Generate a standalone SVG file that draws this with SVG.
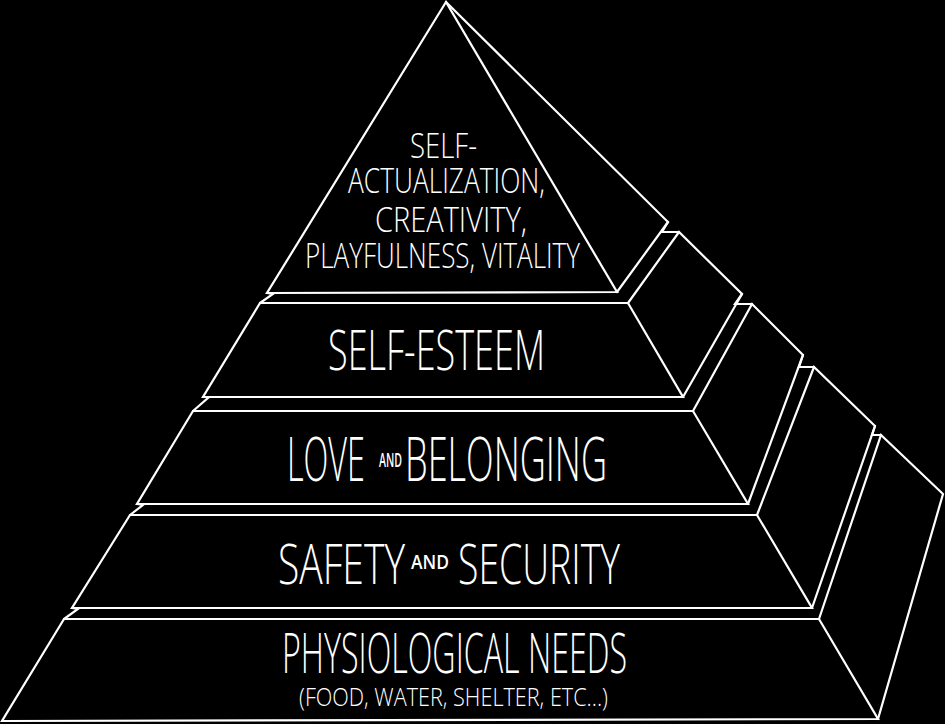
<svg xmlns="http://www.w3.org/2000/svg" width="945" height="724" viewBox="0 0 945 724">
  <style>
    .edge { fill: none; stroke: #ffffff; stroke-width: 2.2; stroke-linejoin: miter; stroke-linecap: round; }
    .lbl { fill: #ffffff; font-family: "Open Sans", "Liberation Sans", "DejaVu Sans", sans-serif; font-weight: 300; }
    .small { font-weight: 600; }
  </style>
  <rect x="0" y="0" width="945" height="724" fill="#000000"/>

  <g id="connectors">
    <path class="edge" d="M267,293 L273,294 L260,303"/>
    <path class="edge" d="M668,222 L662,232 L679,232"/>
    <path class="edge" d="M203,397 L209,397 L193,411"/>
    <path class="edge" d="M742,294 L735,304 L752,304"/>
    <path class="edge" d="M137,504 L143,505 L130,515"/>
    <path class="edge" d="M803,355 L799,367 L814,367"/>
    <path class="edge" d="M72,608 L78,609 L64,619"/>
    <path class="edge" d="M875,426 L872,435 L881,435"/>
  </g>

  <g id="tier-self-actualization">
    <path class="edge" d="M446,2 L267,293 L617,292 Z"/>
    <path class="edge" d="M446,2 L668,222 L617,292"/>
    <text class="lbl" transform="translate(410,158) scale(0.86,1)" font-size="34" textLength="77.9" lengthAdjust="spacingAndGlyphs">SELF-</text>
    <text class="lbl" transform="translate(348,193) scale(0.79,1)" font-size="35" textLength="249.4" lengthAdjust="spacingAndGlyphs">ACTUALIZATION,</text>
    <text class="lbl" transform="translate(375,232) scale(0.88,1)" font-size="35" textLength="172.7" lengthAdjust="spacingAndGlyphs">CREATIVITY,</text>
    <text class="lbl" transform="translate(305,268) scale(0.79,1)" font-size="34" textLength="348.1" lengthAdjust="spacingAndGlyphs">PLAYFULNESS, VITALITY</text>
  </g>

  <g id="tier-self-esteem">
    <path class="edge" d="M260,303 L628,303 L683,397 L203,397 Z"/>
    <path class="edge" d="M628,303 L679,232 L742,294 L683,397"/>
    <text class="lbl" transform="translate(328,370) scale(0.68,1)" font-size="56" textLength="319.1" lengthAdjust="spacingAndGlyphs">SELF-ESTEEM</text>
  </g>

  <g id="tier-love">
    <path class="edge" d="M193,411 L693,411 L748,504 L137,504 Z"/>
    <path class="edge" d="M693,411 L752,304 L803,355 L748,504"/>
    <text class="lbl" transform="translate(287,481) scale(0.565,1)" font-size="60" textLength="138" lengthAdjust="spacingAndGlyphs">LOVE</text>
    <text class="lbl small" transform="translate(379,467) scale(0.58,1)" font-size="19" textLength="39.7" lengthAdjust="spacingAndGlyphs">AND</text>
    <text class="lbl" transform="translate(405,481) scale(0.62,1)" font-size="60" textLength="325.8" lengthAdjust="spacingAndGlyphs">BELONGING</text>
  </g>

  <g id="tier-safety">
    <path class="edge" d="M130,515 L757,515 L812,608 L72,608 Z"/>
    <path class="edge" d="M757,515 L814,367 L875,426 L812,608"/>
    <text class="lbl" transform="translate(278,584) scale(0.73,1)" font-size="56" textLength="174" lengthAdjust="spacingAndGlyphs">SAFETY</text>
    <text class="lbl small" transform="translate(411,569) scale(0.95,1)" font-size="19" textLength="40" lengthAdjust="spacingAndGlyphs">AND</text>
    <text class="lbl" transform="translate(458,584) scale(0.69,1)" font-size="56" textLength="234.8" lengthAdjust="spacingAndGlyphs">SECURITY</text>
  </g>

  <g id="tier-physiological">
    <path class="edge" d="M64,619 L819,619 L878,719 L2,721 Z"/>
    <path class="edge" d="M819,619 L881,435 L943,494 L878,719"/>
    <text class="lbl" transform="translate(282,673) scale(0.6,1)" font-size="56" textLength="575" lengthAdjust="spacingAndGlyphs">PHYSIOLOGICAL NEEDS</text>
    <text class="lbl" transform="translate(299,706) scale(0.82,1)" font-size="26" textLength="376.8" lengthAdjust="spacingAndGlyphs">(FOOD, WATER, SHELTER, ETC...)</text>
  </g>
</svg>
